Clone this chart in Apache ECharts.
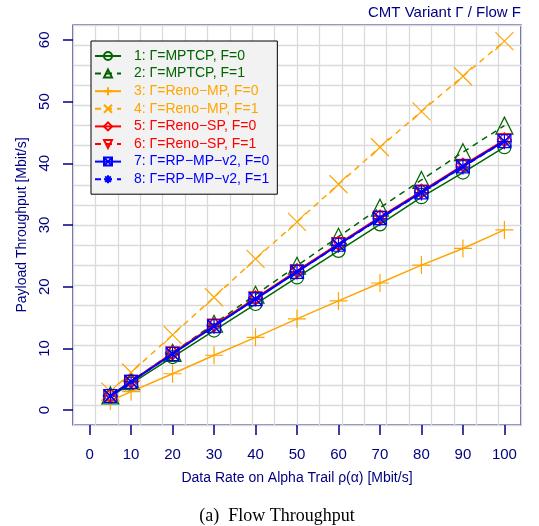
<!DOCTYPE html>
<html>
<head>
<meta charset="utf-8">
<script src="https://cdn.jsdelivr.net/npm/echarts@6/dist/echarts.min.js"></script>
<style>
html,body{margin:0;padding:0;background:#fff;}
#chart{width:539px;height:526px;}
</style>
</head>
<body>
<div id="chart"></div>
<script>
// ---- data ----
const xValues = [5, 10, 20, 30, 40, 50, 60, 70, 80, 90, 100];
const xTickLabels = [0, 10, 20, 30, 40, 50, 60, 70, 80, 90, 100];
const yTickLabels = [0, 10, 20, 30, 40, 50, 60];
const seriesNames = [
  "1: Γ=MPTCP, F=0",
  "2: Γ=MPTCP, F=1",
  "3: Γ=Reno−MP, F=0",
  "4: Γ=Reno−MP, F=1",
  "5: Γ=Reno−SP, F=0",
  "6: Γ=Reno−SP, F=1",
  "7: Γ=RP−MP−v2, F=0",
  "8: Γ=RP−MP−v2, F=1"
];
const mptcpF0   = [2.2, 4.3, 8.6, 12.9, 17.2, 21.5, 25.8, 30.1, 34.5, 38.5, 42.6];
const mptcpF1   = [2.4, 4.7, 9.3, 14.0, 18.7, 23.4, 28.1, 32.8, 37.3, 41.8, 46.1];
const renoMpF0  = [1.5, 3.0, 5.9, 8.9, 11.8, 14.8, 17.7, 20.6, 23.5, 26.2, 29.2];
const renoMpF1  = [3.0, 6.1, 12.2, 18.3, 24.5, 30.5, 36.6, 42.6, 48.4, 54.1, 59.8];
const renoSpF0  = [2.3, 4.7, 9.3, 13.8, 18.2, 22.6, 27.0, 31.3, 35.5, 39.7, 43.8];
const renoSpF1  = [2.3, 4.6, 9.2, 13.7, 18.1, 22.5, 26.9, 31.2, 35.4, 39.6, 43.7];
const rpMpV2F0  = [2.3, 4.6, 9.1, 13.6, 18.0, 22.4, 26.8, 31.1, 35.3, 39.5, 43.6];
const rpMpV2F1  = [2.3, 4.6, 9.1, 13.6, 18.0, 22.4, 26.7, 31.0, 35.2, 39.4, 43.5];
const allValues = [mptcpF0, mptcpF1, renoMpF0, renoMpF1, renoSpF0, renoSpF1, rpMpV2F0, rpMpV2F1];

// ---- styles ----
const NAVY = "#000080";
const colors = ["#006400", "#006400", "#FFA500", "#FFA500", "#FF0000", "#FF0000", "#0000FF", "#0000FF"];
const lineTypes = ["solid", [6, 5], "solid", [6, 5], "solid", [6, 5], "solid", [6, 5]];
const symbols = [
  "circle",
  "triangle",
  "path://M5 0 L5 10 M0 5 L10 5",
  "path://M0 0 L10 10 M10 0 L0 10",
  "diamond",
  "path://M0 0 L10 0 L5 10 Z",
  "path://M0 0 L10 0 L10 10 L0 10 Z M0 0 L10 10 M10 0 L0 10",
  "path://M5 0 L5 10 M0 5 L10 5 M1.5 1.5 L8.5 8.5 M8.5 1.5 L1.5 8.5"
];
const symbolSizes = [13, 17, 18, 18, 14, 13, 13, 15];
const lineWidths = [1.5, 1.5, 1.5, 1.5, 1.5, 1.5, 2, 1.5];

const chart = echarts.init(document.getElementById("chart"), null, {renderer: "canvas"});

const series = seriesNames.map((name, i) => ({
  name: name,
  type: "line",
  xAxisIndex: 0,
  yAxisIndex: 0,
  data: xValues.map((x, k) => [x, allValues[i][k]]),
  symbol: symbols[i],
  symbolSize: symbolSizes[i],
  showAllSymbol: true,
  lineStyle: {color: colors[i], width: lineWidths[i], type: lineTypes[i]},
  itemStyle: {color: "transparent", borderColor: colors[i], borderWidth: 1.2},
  emphasis: {disabled: true},
  z: 3 + i
}));

const option = {
  animation: false,
  backgroundColor: "#ffffff",
  title: [
    {
      text: "CMT Variant Γ / Flow F",
      right: 13, top: 0,
      textStyle: {color: NAVY, fontFamily: "Liberation Sans", fontSize: 15, fontWeight: "normal"}
    },
    {
      text: "(a)  Flow Throughput",
      left: 272, top: 502, textAlign: "center",
      textStyle: {color: "#000", fontFamily: "Liberation Serif", fontSize: 18, fontWeight: "normal"}
    }
  ],
  grid: {
    left: 73, right: 18, top: 25, bottom: 101,
    show: true, borderColor: NAVY, borderWidth: 1.2, backgroundColor: "transparent",
    containLabel: false
  },
  legend: {
    orient: "vertical",
    left: 91, top: 41,
    padding: [8, 8, 8, 3],
    backgroundColor: "#f2f2f2",
    borderColor: "#000",
    borderWidth: 1,
    itemWidth: 26,
    itemHeight: 10,
    itemGap: 3.6,
    selectedMode: false,
    textStyle: {fontFamily: "Liberation Sans", fontSize: 14, padding: [0, 0, 0, 8]},
    data: seriesNames.map((n, i) => ({name: n, textStyle: {color: colors[i]}}))
  },
  xAxis: [
    {
      type: "value", min: -4, max: 104,
      position: "bottom",
      axisLine: {show: false, onZero: false},
      axisTick: {show: true, length: 10, inside: false, customValues: xTickLabels,
                 lineStyle: {color: NAVY, width: 1.5}},
      axisLabel: {show: true, customValues: xTickLabels, margin: 22, color: NAVY,
                  fontFamily: "Liberation Sans", fontSize: 15},
      splitLine: {show: false},
      name: "Data Rate on Alpha Trail ρ(α) [Mbit/s]",
      nameLocation: "middle", nameGap: 46,
      nameTextStyle: {color: NAVY, fontFamily: "Liberation Sans", fontSize: 14}
    },
    {
      type: "value", min: 0, max: 20, interval: 1,
      position: "top",
      axisLine: {show: false, onZero: false}, axisTick: {show: false}, axisLabel: {show: false},
      splitLine: {show: true, lineStyle: {color: "#dadada", width: 1.3}}
    }
  ],
  yAxis: [
    {
      type: "value", min: -2.4, max: 62.4,
      position: "left",
      axisLine: {show: false, onZero: false},
      axisTick: {show: true, length: 10, inside: false, customValues: yTickLabels,
                 lineStyle: {color: NAVY, width: 1.5}},
      axisLabel: {show: true, customValues: yTickLabels, margin: 21, rotate: 90, color: NAVY,
                  fontFamily: "Liberation Sans", fontSize: 15},
      splitLine: {show: false},
      name: "Payload Throughput [Mbit/s]",
      nameLocation: "middle", nameGap: 38,
      nameTextStyle: {color: NAVY, fontFamily: "Liberation Sans", fontSize: 14}
    },
    {
      type: "value", min: 0, max: 20, interval: 1,
      position: "right",
      axisLine: {show: false, onZero: false}, axisTick: {show: false}, axisLabel: {show: false},
      splitLine: {show: true, lineStyle: {color: "#dadada", width: 1.3}}
    }
  ],
  series: series
};
chart.setOption(option);
</script>
</body>
</html>
